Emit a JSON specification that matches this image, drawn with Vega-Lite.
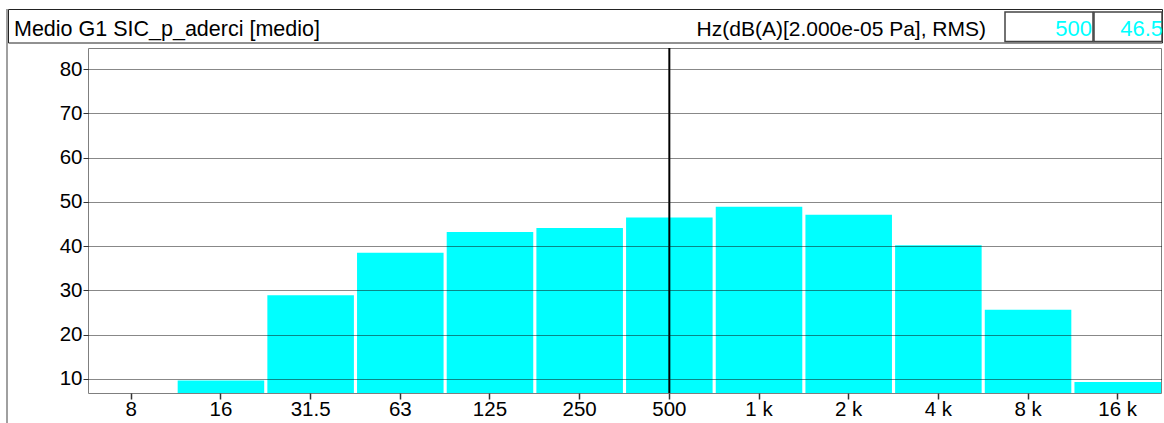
{
  "$schema": "https://vega.github.io/schema/vega-lite/v6.json",
  "width": 1073,
  "height": 345,
  "autosize": {"type": "none"},
  "padding": {"left": 88, "top": 48, "right": 3, "bottom": 30},
  "background": "white",
  "config": {
    "view": {"stroke": "#7f7f7f", "strokeWidth": 1},
    "font": "Liberation Sans",
    "text": {"font": "Liberation Sans"}
  },
  "data": {
    "values": [
      {"freq": "8", "level": null},
      {"freq": "16", "level": 9.6},
      {"freq": "31.5", "level": 28.9},
      {"freq": "63", "level": 38.5},
      {"freq": "125", "level": 43.2},
      {"freq": "250", "level": 44.1},
      {"freq": "500", "level": 46.5},
      {"freq": "1 k", "level": 48.9},
      {"freq": "2 k", "level": 47.1},
      {"freq": "4 k", "level": 40.2},
      {"freq": "8 k", "level": 25.6},
      {"freq": "16 k", "level": 9.3}
    ]
  },
  "layer": [
    {
      "mark": {"type": "bar", "color": "#00FFFF", "clip": true},
      "encoding": {
        "x": {
          "field": "freq",
          "type": "nominal",
          "scale": {
            "domain": ["8", "16", "31.5", "63", "125", "250", "500", "1 k", "2 k", "4 k", "8 k", "16 k"],
            "paddingInner": 0.035,
            "paddingOuter": 0
          },
          "axis": {
            "title": null,
            "labelAngle": 0,
            "labelFont": "Liberation Sans",
            "labelFontSize": 20.5,
            "labelColor": "#000",
            "tickSize": 6,
            "tickColor": "#333",
            "tickWidth": 1.5,
            "labelPadding": 0,
            "domain": false,
            "grid": false
          }
        },
        "y": {
          "field": "level",
          "type": "quantitative",
          "scale": {"domain": [6.8, 84.8], "nice": false, "zero": false},
          "axis": {
            "title": null,
            "values": [10, 20, 30, 40, 50, 60, 70, 80],
            "labelFont": "Liberation Sans",
            "labelFontSize": 20.5,
            "labelColor": "#000",
            "tickSize": 5,
            "tickColor": "#333",
            "labelPadding": 1,
            "domain": false,
            "grid": true,
            "gridColor": "#111",
            "gridDash": [1, 1],
            "gridWidth": 1,
            "gridOpacity": 1,
            "zindex": 1
          }
        }
      }
    },
    {
      "transform": [{"filter": "datum.freq === '500'"}],
      "mark": {"type": "rule", "color": "#000", "strokeWidth": 2},
      "encoding": {
        "x": {"field": "freq", "type": "nominal", "bandPosition": 0.5}
      }
    },
    {
      "transform": [{"filter": "datum.freq === '500'"}],
      "mark": {"type": "rule", "color": "#808080", "strokeWidth": 1.5},
      "encoding": {
        "x": {"value": -81},
        "y": {"value": -39},
        "y2": {"value": 375}
      }
    },
    {
      "transform": [{"filter": "datum.freq === '500'"}],
      "mark": {"type": "rect", "fill": null, "stroke": "#222", "strokeWidth": 1},
      "encoding": {
        "x": {"value": -79.5},
        "x2": {"value": 1074.5},
        "y": {"value": -38.5},
        "y2": {"value": -5}
      }
    },
    {
      "transform": [{"filter": "datum.freq === '500'"}],
      "mark": {"type": "rect", "fill": null, "stroke": "#444", "strokeWidth": 1.5},
      "encoding": {
        "x": {"value": 917},
        "x2": {"value": 1005},
        "y": {"value": -36},
        "y2": {"value": -6.5}
      }
    },
    {
      "transform": [{"filter": "datum.freq === '500'"}],
      "mark": {"type": "rect", "fill": null, "stroke": "#444", "strokeWidth": 1.5},
      "encoding": {
        "x": {"value": 1006},
        "x2": {"value": 1074},
        "y": {"value": -36},
        "y2": {"value": -6.5}
      }
    },
    {
      "transform": [{"filter": "datum.freq === '500'"}],
      "mark": {"type": "text", "align": "left", "baseline": "alphabetic", "fontSize": 21.5, "color": "#000"},
      "encoding": {
        "x": {"value": -74},
        "y": {"value": -12},
        "text": {"value": "Medio G1 SIC_p_aderci [medio]"}
      }
    },
    {
      "transform": [{"filter": "datum.freq === '500'"}],
      "mark": {"type": "text", "align": "right", "baseline": "alphabetic", "fontSize": 21, "color": "#000"},
      "encoding": {
        "x": {"value": 898},
        "y": {"value": -12},
        "text": {"value": "Hz(dB(A)[2.000e-05 Pa], RMS)"}
      }
    },
    {
      "transform": [{"filter": "datum.freq === '500'"}],
      "mark": {"type": "text", "align": "right", "baseline": "alphabetic", "fontSize": 22, "color": "#00FFFF"},
      "encoding": {
        "x": {"value": 1004},
        "y": {"value": -12},
        "text": {"field": "freq", "type": "nominal"}
      }
    },
    {
      "transform": [{"filter": "datum.freq === '500'"}],
      "mark": {"type": "text", "align": "right", "baseline": "alphabetic", "fontSize": 22, "color": "#00FFFF"},
      "encoding": {
        "x": {"value": 1075},
        "y": {"value": -12},
        "text": {"field": "level", "type": "quantitative", "format": ".1f"}
      }
    }
  ]
}
